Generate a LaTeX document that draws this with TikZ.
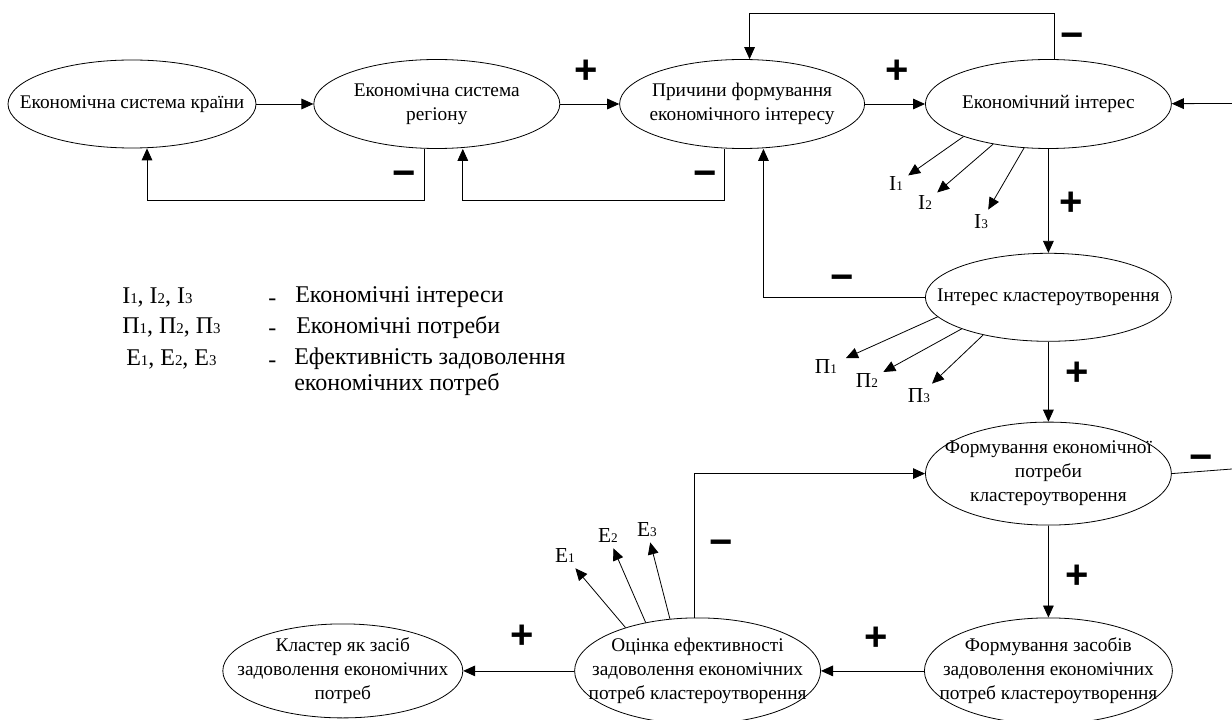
\documentclass[tikz,border=0pt]{standalone}
\usepackage{fontspec}
\setmainfont{Liberation Serif}
\setsansfont{Liberation Sans}
\usetikzlibrary{shapes,arrows.meta,positioning}

\newcommand{\smallidx}[1]{\scalebox{0.62}{#1}}

\begin{document}
\begin{tikzpicture}[
        x=0.75pt, y=0.75pt,
        ell/.style={ellipse, draw, line width=0.6pt, inner sep=-30pt, minimum width=184.5pt, minimum height=66.75pt, align=center, font=\fontsize{14.5}{18}\selectfont},
        lbl/.style={inner sep=1pt, outer sep=3pt, font=\fontsize{16}{18}\selectfont},
        sign/.style={inner sep=0pt, text height=20pt, text depth=0pt, font=\fontsize{30}{30}\selectfont\sffamily\bfseries},
        leg/.style={anchor=west, inner sep=0pt, align=left, font=\fontsize{18}{19.5}\selectfont},
        arrow/.style={-{Triangle[length=9pt, width=8pt]}, line width=0.6pt},
        conn/.style={line width=0.6pt}
    ]
    \useasboundingbox (0,0) rectangle (1232,-720);

    % Top row
    \node[ell, minimum width=186pt, minimum height=66pt] (sk) at (132,-104) {Економічна система країни};
    \node[ell, right=42.75pt of sk] (sr) {Економічна система\\регіону};
    \node[ell, minimum width=183.75pt, right=44.25pt of sr] (pf) {Причини формування\\економічного інтересу};
    \node[ell, right=45pt of pf] (ei) {Економічний інтерес};

    % Right column
    \node[ell, minimum height=66pt, below=78pt of ei] (ik) {Інтерес кластероутворення};
    \node[ell, minimum height=77.25pt, below=60pt of ik] (fp) {Формування економічної\\потреби\\кластероутворення};
    \node[ell, minimum width=186pt, minimum height=79.5pt, below=69pt of fp] (fz) {Формування засобів\\задоволення економічних\\потреб кластероутворення};

    % Bottom row
    \node[ell, minimum height=79.5pt, left=77.25pt of fz] (oe) {Оцінка ефективності\\задоволення економічних\\потреб кластероутворення};
    \node[ell, minimum width=180pt, minimum height=70.5pt, left=83.25pt of oe] (kl) {Кластер як засіб\\задоволення економічних\\потреб};

    % Main arrows
    \coordinate (rin) at (1232,-103.5);
    \coordinate (rout) at (1232,-469);
    \draw[arrow] (sk) -- (sr);
    \draw[arrow] (sr) -- (pf);
    \draw[arrow] (pf) -- (ei);
    \draw[arrow] (rin) -- (ei);
    \draw[arrow] (ei) -- (ik);
    \draw[arrow] (ik) -- (fp);
    \draw[arrow] (fp) -- (fz);
    \draw[arrow] (fz) -- (oe);
    \draw[arrow] (oe) -- (kl);
    \draw[conn] (fp.east) -- (rout);

    % Feedback loops
    \draw[arrow] ([xshift=4.5pt]ei.north) -- ++(0,46) -| ([xshift=5.6pt]pf.north);
    \draw[arrow] ([xshift=-9pt]sr.south) -- ++(0,-52) -| ([xshift=11.25pt]sk.south);
    \draw[arrow] ([xshift=-13.1pt]pf.south) -- ++(0,-52) -| ([xshift=19.5pt]sr.south);
    \draw[arrow] (ik.west) -| ([xshift=16pt]pf.south);
    \draw[arrow] ([xshift=-2.25pt]oe.north) |- (fp.west);

    % Interests, needs, efficiency
    \node[lbl] (i1) at (896,-184) {І\smallidx{1}};
    \node[lbl] (i2) at (925,-203) {І\smallidx{2}};
    \node[lbl] (i3) at (981,-222) {І\smallidx{3}};
    \node[lbl] (n1) at (826,-367) {П\smallidx{1}};
    \node[lbl] (n2) at (867,-381) {П\smallidx{2}};
    \node[lbl] (n3) at (919,-396) {П\smallidx{3}};
    \node[lbl] (e1) at (565,-556) {Е\smallidx{1}};
    \node[lbl] (e2) at (608,-536) {Е\smallidx{2}};
    \node[lbl] (e3) at (647,-530) {Е\smallidx{3}};
    \draw[arrow] (ei.201) -- (i1);
    \draw[arrow] (ei.216) -- (i2);
    \draw[arrow] (ei.241) -- (i3);
    \draw[arrow, shorten >=3pt] (ik.190) -- (n1);
    \draw[arrow] (ik.200) -- (n2);
    \draw[arrow] (ik.210) -- (n3);
    \draw[arrow] (oe.149) -- (e1);
    \draw[arrow] (oe.137) -- (e2);
    \draw[arrow] (oe.118) -- (e3);

    % Signs
    \node[sign] (sg1) at (586,-70) {+};
    \node[sign] (sg2) at (897,-70) {+};
    \node[sign] (sg3) at (1072,-35) {−};
    \node[sign] (sg4) at (404,-173) {−};
    \node[sign] (sg5) at (705,-173) {−};
    \node[sign] (sg6) at (1071,-202) {+};
    \node[sign] (sg7) at (842,-277) {−};
    \node[sign] (sg8) at (1077,-372) {+};
    \node[sign] (sg9) at (1201,-457) {−};
    \node[sign] (sg10) at (1077,-575) {+};
    \node[sign] (sg11) at (721,-542) {−};
    \node[sign] (sg12) at (876,-637) {+};
    \node[sign] (sg13) at (522,-635) {+};

    % Legend
    \node[leg] (lsym1) at (122,-297) {І\smallidx{1}, І\smallidx{2}, І\smallidx{3}};
    \node[leg, anchor=base west] (ldash1) at (268,-306) {-};
    \node[leg] (ltxt1) at (295,-297) {Економічні інтереси};
    \node[leg] (lsym2) at (122,-327) {П\smallidx{1}, П\smallidx{2}, П\smallidx{3}};
    \node[leg, anchor=base west] (ldash2) at (268,-336) {-};
    \node[leg] (ltxt2) at (296,-327) {Економічні потреби};
    \node[leg] (lsym3) at (126,-359) {Е\smallidx{1}, Е\smallidx{2}, Е\smallidx{3}};
    \node[leg, anchor=base west] (ldash3) at (268,-368) {-};
    \node[leg] (ltxt3) at (294,-372) {Ефективність задоволення\\економічних потреб};
\end{tikzpicture}
\end{document}
